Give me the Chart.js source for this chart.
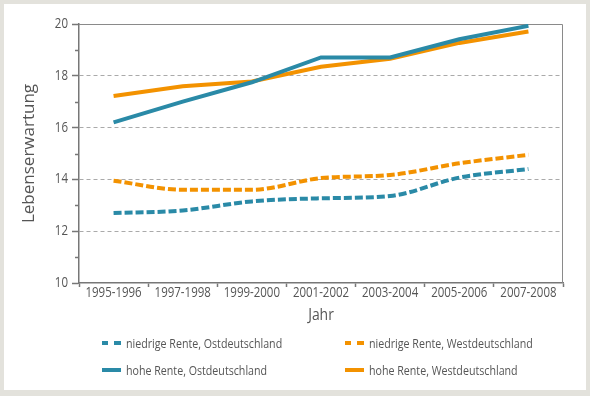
<!DOCTYPE html>
<html><head><meta charset="utf-8">
<script src="https://cdn.jsdelivr.net/npm/chart.js@4"></script>
<style>
html,body{margin:0;padding:0;background:#e3e2dc;width:590px;height:396px;overflow:hidden}
#panel{position:absolute;left:4px;top:4px;width:582px;height:386px;background:#fff}
#wrap{position:absolute;left:0;top:0;width:590px;height:330px}
#legend{position:absolute;left:0;top:0;width:590px;height:396px;pointer-events:none}
.li{position:absolute;height:20px;display:flex;align-items:center;font:13px 'Open Sans',sans-serif;color:#555;white-space:nowrap}
.sw{width:19px;height:4px;margin-right:5px;flex:none}
.li span{display:inline-block;transform:scaleX(0.82);transform-origin:0 50%}
</style></head><body>
<div id="panel"></div>
<div id="wrap"><canvas id="c" width="590" height="330"></canvas></div>
<div id="legend"></div>
<script>
const categories = ['1995-1996','1997-1998','1999-2000','2001-2002','2003-2004','2005-2006','2007-2008'];
const niedrigOst  = [12.7, 12.8, 13.15, 13.27, 13.36, 14.07, 14.4];
const niedrigWest = [13.95, 13.6, 13.6, 14.05, 14.17, 14.62, 14.95];
const hochOst     = [16.2, 17.0, 17.75, 18.71, 18.71, 19.41, 19.93];
const hochWest    = [17.22, 17.6, 17.78, 18.35, 18.66, 19.27, 19.71];
const seriesLabels = ['niedrige Rente, Ostdeutschland','niedrige Rente, Westdeutschland','hohe Rente, Ostdeutschland','hohe Rente, Westdeutschland'];
const yTicksMin = 10, yTicksMax = 20;
const xTitle = 'Jahr', yTitle = 'Lebenserwartung';

const BLUE = '#2a8aa7', ORANGE = '#f39200';
const FONT = "'Open Sans',sans-serif";
const TXT = '#555';

// horizontal text in the reference is condensed; squeeze unrotated canvas text
const SX = 0.82;
const origFill = CanvasRenderingContext2D.prototype.fillText;
CanvasRenderingContext2D.prototype.fillText = function(text, x, y, maxWidth) {
  const m = this.getTransform();
  if (Math.abs(m.b) < 1e-6 && Math.abs(m.c) < 1e-6) {
    this.save();
    this.translate(x, y);
    this.scale(SX, 1);
    if (maxWidth === undefined) origFill.call(this, text, 0, 0);
    else origFill.call(this, text, 0, 0, maxWidth / SX);
    this.restore();
  } else if (maxWidth === undefined) {
    origFill.call(this, text, x, y);
  } else {
    origFill.call(this, text, x, y, maxWidth);
  }
};

const frame = {
  id: 'frame',
  beforeDatasetsDraw(chart) {
    const {ctx, chartArea: a, scales: {y}} = chart;
    ctx.save();
    ctx.strokeStyle = '#8a8a8a';
    ctx.lineWidth = 1;
    ctx.beginPath();
    ctx.moveTo(a.left, a.top + 0.5);
    ctx.lineTo(a.right - 0.5, a.top + 0.5);
    ctx.lineTo(a.right - 0.5, a.bottom);
    ctx.stroke();
    ctx.strokeStyle = '#777';
    ctx.lineWidth = 1.5;
    y.ticks.forEach(t => {
      if (t.value % 2 !== 0) {
        const py = Math.round(y.getPixelForValue(t.value)) + 0.5;
        ctx.beginPath();
        ctx.moveTo(a.left - 4, py);
        ctx.lineTo(a.left, py);
        ctx.stroke();
      }
    });
    ctx.restore();
  }
};

const datasets = [
  {label: seriesLabels[0], data: niedrigOst, borderColor: BLUE, borderDash: [8,3], cubicInterpolationMode: 'monotone'},
  {label: seriesLabels[2], data: hochOst, borderColor: BLUE, borderDash: [], tension: 0},
  {label: seriesLabels[1], data: niedrigWest, borderColor: ORANGE, borderDash: [8,3], cubicInterpolationMode: 'monotone'},
  {label: seriesLabels[3], data: hochWest, borderColor: ORANGE, borderDash: [], tension: 0}
].map(d => Object.assign({borderWidth: 4, pointRadius: 0, fill: false, borderCapStyle: 'butt'}, d));

new Chart(document.getElementById('c'), {
  type: 'line',
  data: {labels: categories, datasets},
  options: {
    responsive: false,
    animation: false,
    devicePixelRatio: 1,
    layout: {padding: {left: 0, top: 24, right: 27, bottom: 5}},
    plugins: {legend: {display: false}, tooltip: {enabled: false}},
    scales: {
      x: {
        type: 'category',
        offset: true,
        grid: {display: true, drawOnChartArea: false, offset: true, tickLength: 4, tickColor: '#777', tickWidth: 1.5},
        border: {display: true, color: '#777', width: 1.5},
        ticks: {color: TXT, font: {family: FONT, size: 14}, padding: -2, maxRotation: 0, minRotation: 0, autoSkip: false},
        title: {display: true, text: xTitle, color: TXT, font: {family: FONT, size: 17}, padding: {top: 0, bottom: 0}},
        afterFit(s) { s.height = 42; }
      },
      y: {
        min: yTicksMin, max: yTicksMax,
        ticks: {stepSize: 1, autoSkip: false, color: TXT, font: {family: FONT, size: 14}, padding: 4,
          callback: v => (v % 2 === 0 ? String(v) : '')},
        grid: {
          color: c => (c.tick && c.tick.value % 2 === 0 && c.tick.value > yTicksMin && c.tick.value < yTicksMax) ? '#aaa' : 'rgba(0,0,0,0)',
          tickColor: c => (c.tick && c.tick.value % 2 === 0) ? '#777' : 'rgba(0,0,0,0)',
          tickLength: 7, tickWidth: 1.5, lineWidth: 1
        },
        border: {display: true, color: '#777', width: 1.5, dash: [4,3]},
        title: {display: true, text: yTitle, color: TXT, font: {family: FONT, size: 17}, padding: {top: 19, bottom: 0}},
        afterFit(s) { s.width = 79; }
      }
    }
  },
  plugins: [frame]
});

// HTML legend in two columns, built from the series definitions
const legendItems = [
  {label: seriesLabels[0], color: BLUE, dashed: true},
  {label: seriesLabels[1], color: ORANGE, dashed: true},
  {label: seriesLabels[2], color: BLUE, dashed: false},
  {label: seriesLabels[3], color: ORANGE, dashed: false}
];
const colX = [102, 345], rowY = [343, 370];
const leg = document.getElementById('legend');
legendItems.forEach((it, i) => {
  const d = document.createElement('div');
  d.className = 'li';
  d.style.left = colX[i % 2] + 'px';
  d.style.top = (rowY[Math.floor(i / 2)] - 10) + 'px';
  const sw = document.createElement('div');
  sw.className = 'sw';
  sw.style.background = it.dashed
    ? `linear-gradient(90deg, ${it.color} 0 6.5px, transparent 6.5px 12.5px, ${it.color} 12.5px 19px)`
    : it.color;
  const t = document.createElement('span');
  t.textContent = it.label;
  d.appendChild(sw); d.appendChild(t);
  leg.appendChild(d);
});
</script>
</body></html>
